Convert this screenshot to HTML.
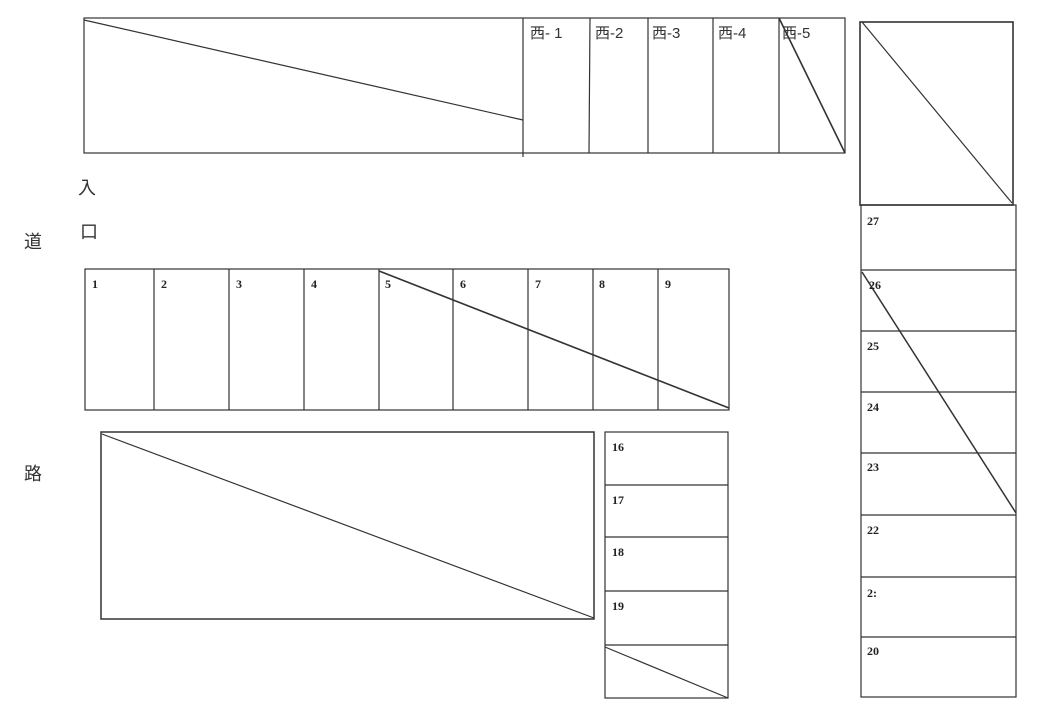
<!DOCTYPE html>
<html><head><meta charset="utf-8"><style>
body{margin:0;background:#fff;}
svg{display:block}
text{font-family:"Liberation Serif","Noto Serif CJK SC",serif;font-size:12px;font-weight:bold;fill:#222}
.k{font-family:"Liberation Sans","Noto Sans CJK JP",sans-serif;font-size:18px;font-weight:normal;fill:#333}
.h{font-family:"Liberation Sans","Noto Sans CJK JP",sans-serif;font-size:15px;font-weight:normal;fill:#333}
</style></head><body>
<svg width="1046" height="716" viewBox="0 0 1046 716" fill="none" stroke="#333" stroke-width="1.2">
<!-- top block -->
<rect x="84" y="18" width="761" height="135"/>
<line x1="523" y1="18" x2="523" y2="157"/>
<line x1="590" y1="18" x2="589" y2="153"/>
<line x1="648" y1="18" x2="648" y2="153"/>
<line x1="713" y1="18" x2="713" y2="153"/>
<line x1="779" y1="18" x2="779" y2="153"/>
<line x1="84" y1="20" x2="523" y2="120"/>
<line x1="779" y1="18" x2="845" y2="153" stroke-width="1.6"/>
<g stroke="none">
<text class="h" x="530" y="38">西- 1</text>
<text class="h" x="595" y="38">西-2</text>
<text class="h" x="652" y="38">西-3</text>
<text class="h" x="718" y="38">西-4</text>
<text class="h" x="782" y="38">西-5</text>
</g>
<!-- right column -->
<rect x="860" y="22" width="153" height="183" stroke-width="1.6"/>
<line x1="862" y1="22" x2="1012" y2="203"/>
<rect x="861" y="205" width="155" height="492"/>
<line x1="861" y1="270" x2="1016" y2="270"/>
<line x1="861" y1="331" x2="1016" y2="331"/>
<line x1="861" y1="392" x2="1016" y2="392"/>
<line x1="861" y1="453" x2="1016" y2="453"/>
<line x1="861" y1="515" x2="1016" y2="515"/>
<line x1="861" y1="577" x2="1016" y2="577"/>
<line x1="861" y1="637" x2="1016" y2="637"/>
<line x1="862" y1="272" x2="1016" y2="513" stroke-width="1.5"/>
<g stroke="none">
<text x="867" y="225">27</text>
<text x="869" y="289">26</text>
<text x="867" y="350">25</text>
<text x="867" y="411">24</text>
<text x="867" y="471">23</text>
<text x="867" y="534">22</text>
<text x="867" y="597">2:</text>
<text x="867" y="655">20</text>
</g>
<!-- row 1-9 -->
<rect x="85" y="269" width="644" height="141"/>
<line x1="154" y1="269" x2="154" y2="410"/>
<line x1="229" y1="269" x2="229" y2="410"/>
<line x1="304" y1="269" x2="304" y2="410"/>
<line x1="379" y1="269" x2="379" y2="410"/>
<line x1="453" y1="269" x2="453" y2="410"/>
<line x1="528" y1="269" x2="528" y2="410"/>
<line x1="593" y1="269" x2="593" y2="410"/>
<line x1="658" y1="269" x2="658" y2="410"/>
<line x1="379" y1="271" x2="729" y2="408" stroke-width="1.6"/>
<g stroke="none">
<text x="92" y="288">1</text><text x="161" y="288">2</text><text x="236" y="288">3</text>
<text x="311" y="288">4</text><text x="385" y="288">5</text><text x="460" y="288">6</text>
<text x="535" y="288">7</text><text x="599" y="288">8</text><text x="665" y="288">9</text>
</g>
<!-- big box -->
<rect x="101" y="432" width="493" height="187" stroke-width="1.5"/>
<line x1="102" y1="434" x2="594" y2="618"/>
<!-- 16-20 -->
<rect x="605" y="432" width="123" height="266"/>
<line x1="605" y1="485" x2="728" y2="485"/>
<line x1="605" y1="537" x2="728" y2="537"/>
<line x1="605" y1="591" x2="728" y2="591"/>
<line x1="605" y1="645" x2="728" y2="645"/>
<line x1="605" y1="647" x2="728" y2="698"/>
<g stroke="none">
<text x="612" y="451">16</text><text x="612" y="504">17</text>
<text x="612" y="556">18</text><text x="612" y="610">19</text>
<text class="k" x="24" y="248">道</text>
<text class="k" x="24" y="480">路</text>
<text class="k" x="78" y="194">入</text>
<text class="k" x="80" y="238">口</text>
</g>
</svg>
</body></html>
